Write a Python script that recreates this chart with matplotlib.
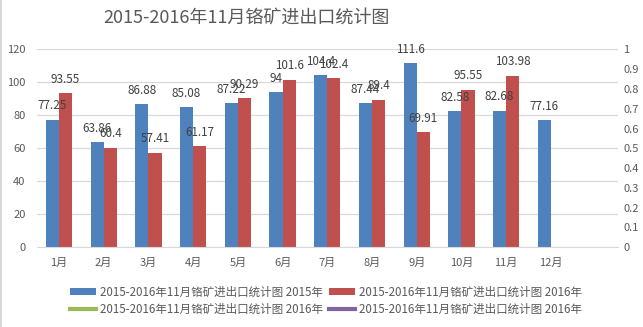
import numpy as np
import matplotlib.pyplot as plt
from matplotlib.lines import Line2D

plt.rcParams['font.family'] = ['Noto Sans CJK SC', 'DejaVu Sans']

# data
months = ['1月', '2月', '3月', '4月', '5月', '6月', '7月', '8月', '9月', '10月', '11月', '12月']
y2015 = [77.25, 63.86, 86.88, 85.08, 87.22, 94, 104.4, 87.44, 111.6, 82.58, 82.68, 77.16]
y2016 = [93.55, 60.4, 57.41, 61.17, 90.29, 101.6, 102.4, 89.4, 69.91, 95.55, 103.98]
title = '2015-2016年11月铬矿进出口统计图'
series_names = [title + ' 2015年', title + ' 2016年', title + ' 2016年', title + ' 2016年']

blue = '#4F81BD'
red = '#C0504D'
green = '#9BBB59'
purple = '#8064A2'
grey = '#595959'

fig = plt.figure(figsize=(6.43, 3.27), dpi=100)
ax = fig.add_axes([0.057, 0.244, 0.904, 0.605])
ax2 = ax.twinx()

w = 0.294
x = np.arange(len(months))
b1 = ax.bar(x[:len(y2015)] - w / 2, y2015, w, color=blue, zorder=3)
b2 = ax.bar(x[:len(y2016)] + w / 2, y2016, w, color=red, zorder=3)

# line series on the secondary axis carry no data
l1, = ax2.plot([], [], color=green, lw=3)
l2, = ax2.plot([], [], color=purple, lw=3)

for bars, vals in ((b1, y2015), (b2, y2016)):
    for r, v in zip(bars, vals):
        ax.annotate(f'{v:g}', (r.get_x() + r.get_width() / 2, v),
                    xytext=(0, 7.5), textcoords='offset points',
                    ha='center', va='baseline', fontsize=8.4, color='#404040')

ax.set_xlim(-0.5, len(months) + 0.5)
ax.set_ylim(0, 120)
ax.set_yticks(np.arange(0, 121, 20))
ax.set_xticks(x)
ax.set_xticklabels(months)
ax2.set_ylim(0, 1)
ax2.set_yticks(np.arange(0, 1.01, 0.1))
ax2.set_yticklabels(['0', '0.1', '0.2', '0.3', '0.4', '0.5', '0.6', '0.7', '0.8', '0.9', '1'])

ax.grid(axis='y', color='#D9D9D9', lw=0.9, zorder=0)
for a in (ax, ax2):
    for s in a.spines.values():
        s.set_visible(False)
    a.tick_params(length=0, labelsize=8, labelcolor=grey)
ax.spines['bottom'].set_visible(True)
ax.spines['bottom'].set_color('#D9D9D9')
ax.spines['bottom'].set_zorder(4)
ax.tick_params(axis='y', pad=8)
ax.tick_params(axis='x', pad=8)
ax2.tick_params(axis='y', pad=4)

fig.text(0.383, 0.945, title, ha='center', va='center', fontsize=13, color=grey)

handles = [b1, l1, b2, l2]
labels = [series_names[0], series_names[2], series_names[1], series_names[3]]
fig.legend(handles, labels, ncol=2, loc='center', bbox_to_anchor=(0.507, 0.08),
           frameon=False, fontsize=8.3, labelcolor=grey, handlelength=2.3,
           handleheight=0.6, handletextpad=0.35, columnspacing=0.5,
           labelspacing=0.35, borderpad=0)

# chart border on the left edge
fig.add_artist(Line2D([0.002, 0.002], [0, 1], color='#D9D9D9', lw=1.5))

fig.savefig('out.png', dpi=100)
